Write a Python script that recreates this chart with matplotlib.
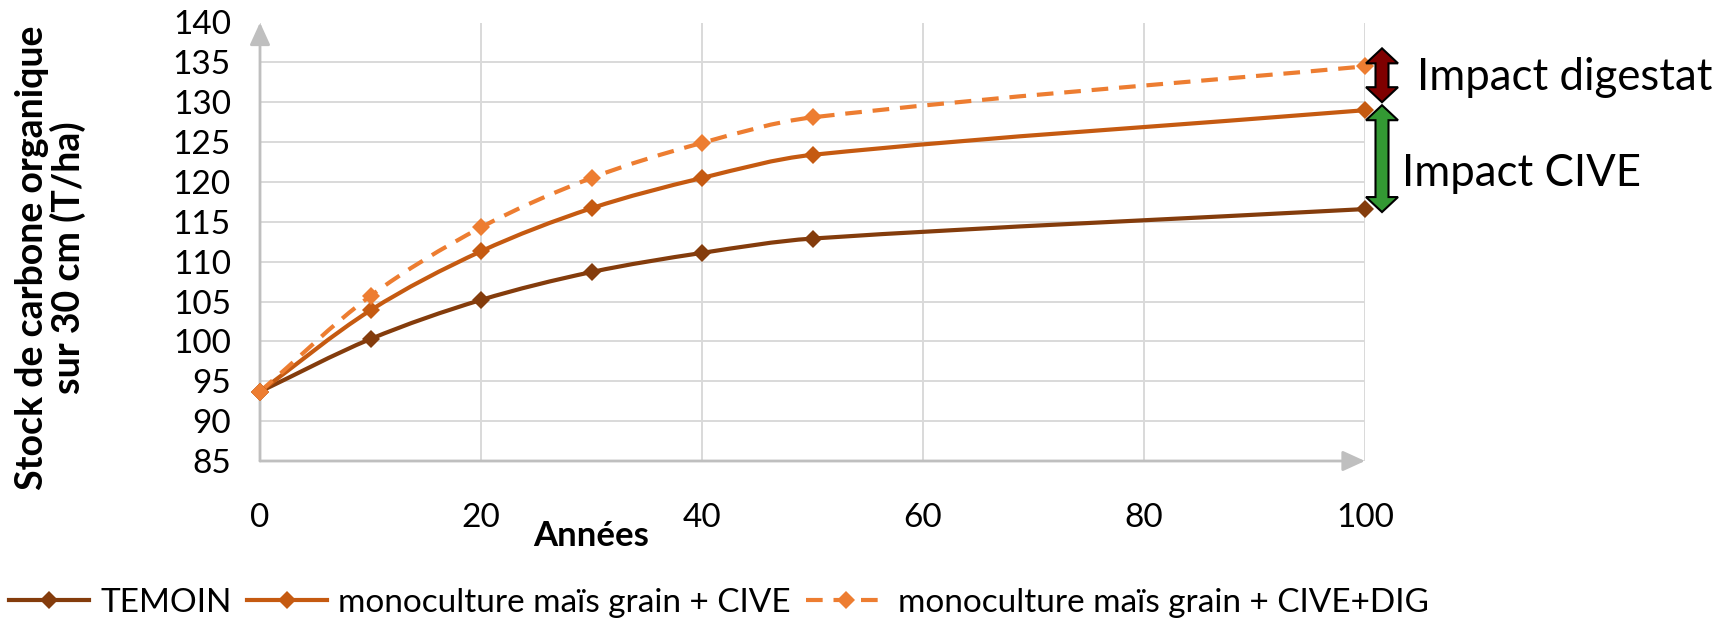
import numpy as np
import matplotlib.pyplot as plt
from matplotlib.path import Path
from matplotlib.patches import PathPatch, Polygon
from matplotlib.lines import Line2D

plt.rcParams['font.family'] = ['Lato', 'DejaVu Sans']

annees = [0, 10, 20, 30, 40, 50, 100]
temoin = [93.7, 100.3, 105.2, 108.7, 111.1, 112.9, 116.6]
cive = [93.7, 103.9, 111.3, 116.7, 120.5, 123.4, 129.0]
cive_dig = [93.7, 105.7, 114.3, 120.5, 124.9, 128.1, 134.5]

noms = ["TEMOIN", "monoculture maïs grain + CIVE", "monoculture maïs grain + CIVE+DIG"]
couleurs = ["#843C0C", "#C55A11", "#ED7D31"]
styles = ["-", "-", (0, (4, 2.6))]

W, H = 1723, 623
fig = plt.figure(figsize=(W / 100, H / 100), dpi=100)
ax = fig.add_axes([260 / W, 1 - 461 / H, (1365 - 260) / W, (461 - 22.5) / H])
ax.set_xlim(0, 100)
ax.set_ylim(85, 140)


def courbe_lissee(xs, ys):
    # courbe lissée : Bezier cubique par segment, tangentes calculées en pixels
    p = ax.transData.transform(np.column_stack([xs, ys]))
    n = len(p)
    tang = []
    for i in range(n):
        d = p[min(i + 1, n - 1)] - p[max(i - 1, 0)]
        tang.append(d / np.hypot(*d))
    verts, codes = [p[0]], [Path.MOVETO]
    for i in range(n - 1):
        L = np.hypot(*(p[i + 1] - p[i]))
        verts += [p[i] + tang[i] * L / 3, p[i + 1] - tang[i + 1] * L / 3, p[i + 1]]
        codes += [Path.CURVE4] * 3
    verts = ax.transData.inverted().transform(np.array(verts))
    return Path(verts, codes)


handles = []
for y, nom, c, ls in zip([temoin, cive, cive_dig], noms, couleurs, styles):
    ax.add_patch(PathPatch(courbe_lissee(annees, y), fill=False, ec=c, lw=3,
                           ls=ls, clip_on=False, zorder=3, capstyle='butt'))
    ax.plot(annees, y, ls='none', marker='D', ms=9.5, mew=0, color=c,
            clip_on=False, zorder=4)
    handles.append(Line2D([], [], color=c, lw=3, ls=ls, marker='D', ms=9.5,
                          mew=0, label=nom))

# grille et axes
ax.set_xticks(range(0, 101, 20))
ax.set_yticks(range(85, 141, 5))
ax.grid(True, color="#D9D9D9", lw=1.4)
ax.set_axisbelow(True)
for s in ax.spines.values():
    s.set_visible(False)
ax.tick_params(length=0, labelsize=24, colors="black")
ax.tick_params(axis='x', pad=30)
ax.tick_params(axis='y', pad=21)
fleche_axe = dict(arrowstyle='-|>,head_length=0.68,head_width=0.31', color="#BFBFBF",
                  lw=2, shrinkA=0, shrinkB=0, mutation_scale=20)
ax.annotate('', xy=(0, 140), xytext=(0, 85), arrowprops=fleche_axe, zorder=2,
            annotation_clip=False)
ax.annotate('', xy=(100, 85), xytext=(0, 85), arrowprops=fleche_axe, zorder=2,
            annotation_clip=False)

ax.text(0.30, -0.172, "Années", transform=ax.transAxes, fontsize=25,
        fontweight='bold', ha='center', va='center')
fig.text(50.5 / W, 1 - 258 / H, "Stock de carbone organique\nsur 30 cm (T/ha)",
         rotation=90, ha='center', va='center', fontsize=27, fontweight='bold',
         linespacing=1.0)


def double_fleche(x, y_haut, y_bas, couleur):
    # flèche pleine à deux pointes, en pixels
    tete_l, tete_w, corps_w = 15, 16, 6.5
    pts = [(x, y_haut), (x + tete_w, y_haut - tete_l), (x + corps_w, y_haut - tete_l),
           (x + corps_w, y_bas + tete_l), (x + tete_w, y_bas + tete_l), (x, y_bas),
           (x - tete_w, y_bas + tete_l), (x - corps_w, y_bas + tete_l),
           (x - corps_w, y_haut - tete_l), (x - tete_w, y_haut - tete_l)]
    fig.patches.append(Polygon(pts, closed=True, transform=None, fc=couleur,
                               ec="black", lw=1.5, zorder=5, figure=fig))


def px(x, y):
    return ax.transData.transform((x, y))


xa = px(annees[-1], 0)[0] + 17
double_fleche(xa, px(0, cive_dig[-1])[1] + 18, px(0, cive[-1])[1] + 8, "#7F0000")
double_fleche(xa, px(0, cive[-1])[1] + 5, px(0, temoin[-1])[1] - 3, "#339933")

fig.text(1417 / W, 1 - 77 / H, "Impact digestat", fontsize=31.5, va='center', ha='left')
fig.text(1402 / W, 1 - 173 / H, "Impact CIVE", fontsize=31.5, va='center', ha='left')

fig.legend(handles=handles, loc='center', bbox_to_anchor=(718.5 / W, 1 - 603 / H),
           ncol=3, frameon=False, fontsize=24, handlelength=2.4,
           handletextpad=0.35, columnspacing=0.45, borderpad=0, borderaxespad=0)

fig.savefig("out.png", dpi=100, facecolor="white")
